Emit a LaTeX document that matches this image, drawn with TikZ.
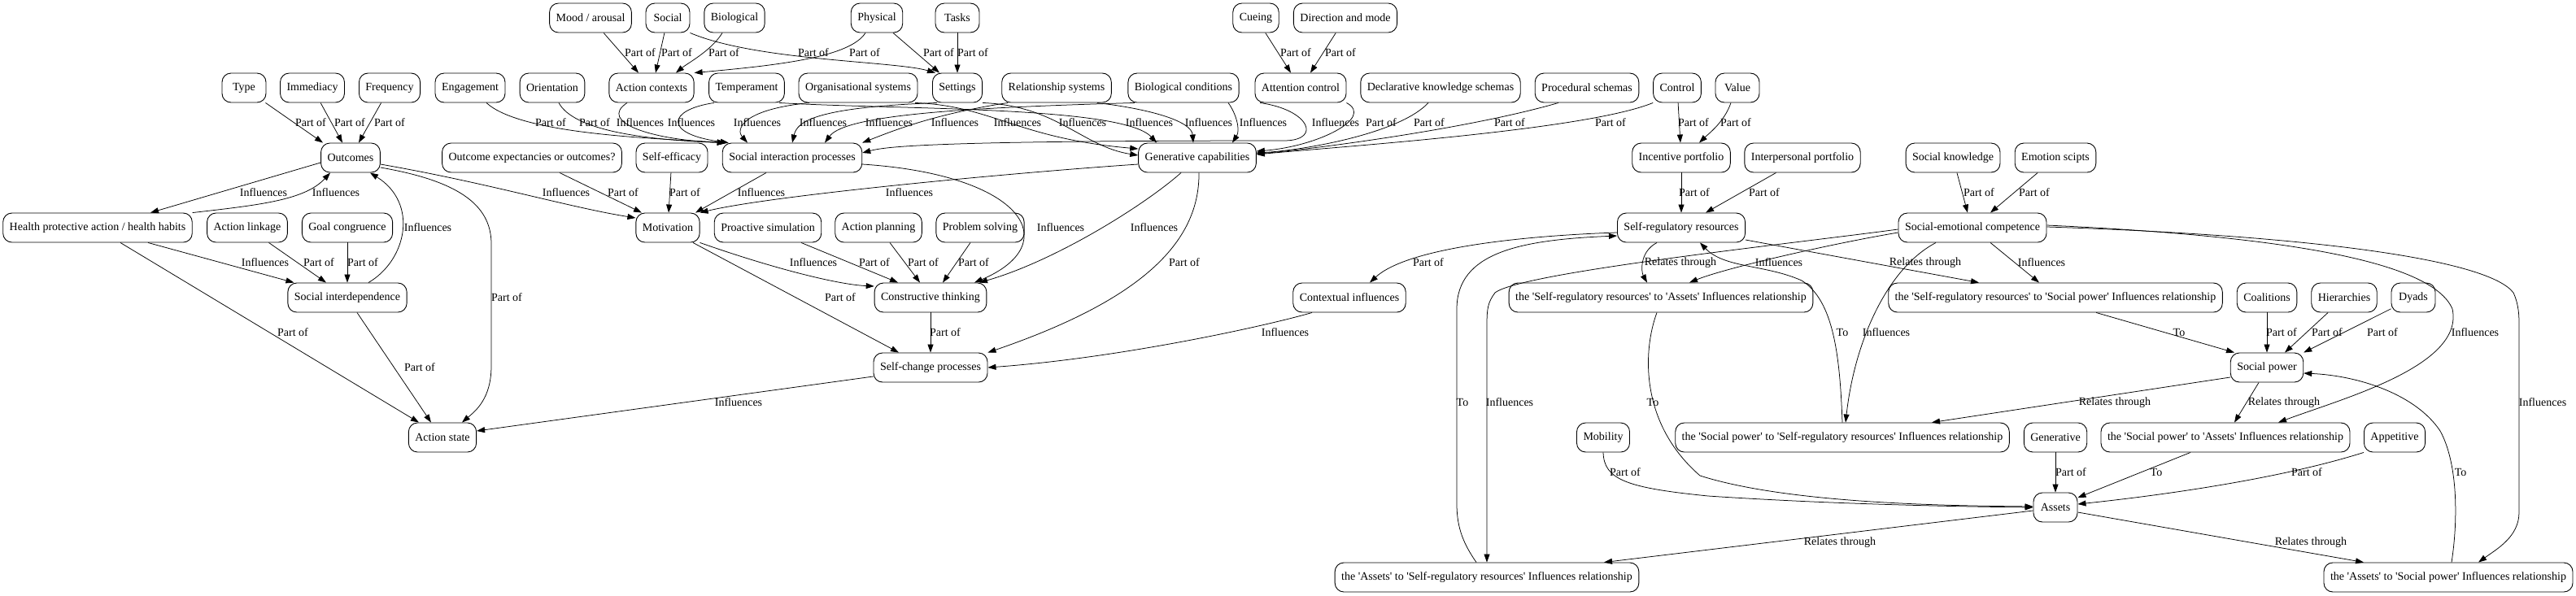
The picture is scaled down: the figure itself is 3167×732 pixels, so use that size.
\documentclass[tikz,border=0pt]{standalone}
\usepackage{fontspec}
\setmainfont{Liberation Serif}[Ligatures=TeXOff]
\usetikzlibrary{arrows.meta}
\tikzset{
  box/.style={draw, line width=0.9pt, rounded corners=11pt, minimum height=36pt,
    minimum width=54pt, inner xsep=8pt, inner ysep=0pt, font=\fontsize{14}{16}\selectfont},
  lnk/.style={line width=0.75pt, -{Triangle[length=10pt,width=7pt]}},
  elbl/.style={font=\fontsize{14}{16}\selectfont, inner sep=0pt},
}
\begin{document}
\begin{tikzpicture}[x=1pt,y=-1pt]
  \useasboundingbox (0,0) rectangle (3167,732);

  % rank 0
  \node[box] (mood)   at (726,22)  {Mood / arousal};
  \node[box] (social) at (821,22)  {Social};
  \node[box] (bio)    at (903,22)  {Biological};
  \node[box] (phys)   at (1078,22) {Physical};
  \node[box] (tasks)  at (1177,22) {Tasks};
  \node[box] (cue)    at (1544,22) {Cueing};
  \node[box] (dirm)   at (1654,22) {Direction and mode};

  % rank 1
  \node[box] (type)     at (300,108)  {Type};
  \node[box] (immed)    at (384,108)  {Immediacy};
  \node[box] (freq)     at (479,108)  {Frequency};
  \node[box] (engage)   at (578,108)  {Engagement};
  \node[box] (orient)   at (679,108)  {Orientation};
  \node[box] (actx)     at (801,108)  {Action contexts};
  \node[box] (temper)   at (918,108)  {Temperament};
  \node[box] (orgsys)   at (1055,108) {Organisational systems};
  \node[box] (settings) at (1177,108) {Settings};
  \node[box] (relsys)   at (1299,108) {Relationship systems};
  \node[box] (bioc)     at (1455,108) {Biological conditions};
  \node[box] (attc)     at (1599,108) {Attention control};
  \node[box] (declk)    at (1771,108) {Declarative knowledge schemas};
  \node[box] (procs)    at (1951,108) {Procedural schemas};
  \node[box] (control)  at (2062,108) {Control};
  \node[box] (value)    at (2136,108) {Value};

  % rank 2
  \node[box] (outc)  at (431,194)  {Outcomes};
  \node[box] (oexp)  at (654,194)  {Outcome expectancies or outcomes?};
  \node[box] (seff)  at (826,194)  {Self-efficacy};
  \node[box] (sip)   at (974,194)  {Social interaction processes};
  \node[box] (gcap)  at (1472,194) {Generative capabilities};
  \node[box] (incp)  at (2067,194) {Incentive portfolio};
  \node[box] (intp)  at (2216,194) {Interpersonal portfolio};
  \node[box] (sknow) at (2401,194) {Social knowledge};
  \node[box] (emos)  at (2527,194) {Emotion scipts};

  % rank 3
  \node[box] (health) at (120,280)  {Health protective action / health habits};
  \node[box] (alink)  at (304,280)  {Action linkage};
  \node[box] (goalc)  at (427,280)  {Goal congruence};
  \node[box] (motiv)  at (821,280)  {Motivation};
  \node[box] (prosim) at (944,280)  {Proactive simulation};
  \node[box] (aplan)  at (1080,280) {Action planning};
  \node[box] (probs)  at (1205,280) {Problem solving};
  \node[box] (srr)    at (2067,280) {Self-regulatory resources};
  \node[box] (sec)    at (2425,280) {Social-emotional competence};

  % rank 4
  \node[box] (sinter) at (427,366)  {Social interdependence};
  \node[box] (cthink) at (1144,366) {Constructive thinking};
  \node[box] (ctxi)   at (1659,366) {Contextual influences};
  \node[box] (rSA)    at (2042,366) {the 'Self-regulatory resources' to 'Assets' Influences relationship};
  \node[box] (rSP)    at (2527,366) {the 'Self-regulatory resources' to 'Social power' Influences relationship};
  \node[box] (coal)   at (2787,366) {Coalitions};
  \node[box] (hier)   at (2882,366) {Hierarchies};
  \node[box] (dyads)  at (2967,366) {Dyads};

  % rank 5
  \node[box] (scp)  at (1144,452) {Self-change processes};
  \node[box] (spow) at (2787,452) {Social power};

  % rank 6
  \node[box] (astate) at (544,538)  {Action state};
  \node[box] (mobil)  at (1971,538) {Mobility};
  \node[box] (rPS)    at (2265,538) {the 'Social power' to 'Self-regulatory resources' Influences relationship};
  \node[box] (gener)  at (2527,538) {Generative};
  \node[box] (rPA)    at (2736,538) {the 'Social power' to 'Assets' Influences relationship};
  \node[box] (appet)  at (2944,538) {Appetitive};

  % rank 7 and 8
  \node[box] (assets) at (2527,624) {Assets};
  \node[box] (rAS)    at (1828,710) {the 'Assets' to 'Self-regulatory resources' Influences relationship};
  \node[box] (rAP)    at (3010,710) {the 'Assets' to 'Social power' Influences relationship};

  % parts of action contexts, settings, attention control
  \draw[lnk] (mood) -- ([xshift=-16pt]actx.north) node[elbl] at (787,65) {Part of};
  \draw[lnk] (social) -- ([xshift=5pt]actx.north) node[elbl] at (832,65) {Part of};
  \draw[lnk] ([xshift=-15pt]bio.south) .. controls (875,62) and (845,78) .. ([xshift=30pt]actx.north) node[elbl] at (890,65) {Part of};
  \draw[lnk] ([xshift=-14pt]phys.south) .. controls (1045,70) and (960,80) .. (actx.north east) node[elbl] at (1063,65) {Part of};
  \draw[lnk] (social.south east) .. controls (930,75) and (1100,75) .. ([xshift=4pt]settings.north west) node[elbl] at (1000,65) {Part of};
  \draw[lnk] ([xshift=20pt]phys.south) -- ([xshift=-22pt]settings.north) node[elbl] at (1154,65) {Part of};
  \draw[lnk] (tasks) -- (settings) node[elbl] at (1196,65) {Part of};
  \draw[lnk] (cue) -- ([xshift=-12pt]attc.north) node[elbl] at (1593,65) {Part of};
  \draw[lnk] (dirm) -- ([xshift=12pt]attc.north) node[elbl] at (1648,65) {Part of};

  % parts of outcomes
  \draw[lnk] (type) -- ([xshift=-34pt]outc.north) node[elbl] at (382,151) {Part of};
  \draw[lnk] (immed) -- ([xshift=-10pt]outc.north) node[elbl] at (430,151) {Part of};
  \draw[lnk] (freq) -- ([xshift=10pt]outc.north) node[elbl] at (479,151) {Part of};

  % into social interaction processes
  \draw[lnk] ([xshift=20pt]engage.south) .. controls (640,165) and (800,170) .. ([xshift=4pt]sip.north west) node[elbl] at (677,151) {Part of};
  \draw[lnk] ([xshift=8pt]orient.south) .. controls (705,160) and (790,172) .. ([xshift=4pt]sip.north west) node[elbl] at (731,151) {Part of};
  \draw[lnk] ([xshift=-30pt]actx.south) .. controls (735,150) and (800,172) .. ([xshift=4pt]sip.north west) node[elbl] at (787,151) {Influences};
  \draw[lnk] ([xshift=-40pt]temper.south) .. controls (820,135) and (815,165) .. ([xshift=8pt]sip.north west) node[elbl] at (850,151) {Influences};
  \draw[lnk] ([xshift=-60pt]orgsys.south) .. controls (910,135) and (905,160) .. ([xshift=-55pt]sip.north) node[elbl] at (931,151) {Influences};
  \draw[lnk] ([xshift=-25pt]settings.south) .. controls (1000,132) and (980,150) .. (sip.north) node[elbl] at (1012,151) {Influences};
  \draw[lnk] ([xshift=-60pt]bioc.south) .. controls (1200,132) and (1040,140) .. ([xshift=40pt]sip.north) node[elbl] at (1093,151) {Influences};
  \draw[lnk] ([xshift=-60pt]relsys.south) .. controls (1150,140) and (1100,160) .. (sip.north east) node[elbl] at (1174,151) {Influences};
  \draw[lnk] ([xshift=-50pt]attc.south) .. controls (1610,135) and (1625,172) .. (1580,173) .. controls (1150,173) and (1090,180) .. ([yshift=6pt]sip.east) node[elbl] at (1642,151) {Influences};

  % into generative capabilities
  \draw[lnk] ([xshift=70pt]orgsys.south) .. controls (1220,130) and (1250,170) .. ([yshift=11pt]gcap.west) node[elbl] at (1251,151) {Influences};
  \draw[lnk] (settings.south east) .. controls (1300,130) and (1330,180) .. ([yshift=3pt]gcap.west) node[elbl] at (1331,151) {Influences};
  \draw[lnk] ([xshift=40pt]temper.south) .. controls (1100,135) and (1380,130) .. ([xshift=-50pt]gcap.north) node[elbl] at (1413,151) {Influences};
  \draw[lnk] ([xshift=50pt]relsys.south) .. controls (1420,135) and (1465,150) .. ([xshift=-5pt]gcap.north) node[elbl] at (1486,151) {Influences};
  \draw[lnk] ([xshift=55pt]bioc.south) .. controls (1520,140) and (1525,160) .. ([xshift=43pt]gcap.north) node[elbl] at (1553,151) {Influences};
  \draw[lnk] (attc.south east) .. controls (1690,145) and (1620,180) .. ([yshift=8pt]gcap.east) node[elbl] at (1698,151) {Part of};
  \draw[lnk] ([xshift=-15pt]declk.south) .. controls (1720,165) and (1600,185) .. ([yshift=6pt]gcap.east) node[elbl] at (1757,151) {Part of};
  \draw[lnk] ([xshift=-35pt]procs.south) .. controls (1800,160) and (1600,185) .. ([yshift=5pt]gcap.east) node[elbl] at (1856,151) {Part of};
  \draw[lnk] (control.south west) .. controls (1950,160) and (1650,180) .. ([yshift=4pt]gcap.east) node[elbl] at (1980,151) {Part of};

  % outcomes, health habits, social interdependence
  \draw[lnk] ([yshift=-6pt]outc.west) -- ([xshift=65pt]health.north) node[elbl] at (324,237) {Influences};
  \draw[lnk] (health.north east) .. controls (320,252) and (375,246) .. ([xshift=-25pt]outc.south) node[elbl] at (413,237) {Influences};
  \draw[lnk] ([xshift=62pt]health.south) -- ([xshift=8pt]sinter.north west) node[elbl] at (326,323) {Influences};
  \draw[lnk] (alink) -- ([xshift=-26pt]sinter.north) node[elbl] at (392,323) {Part of};
  \draw[lnk] (goalc) -- (sinter) node[elbl] at (446,323) {Part of};
  \draw[lnk] ([xshift=26pt]sinter.north) .. controls (500,320) and (515,250) .. ([xshift=24pt]outc.south) node[elbl] at (526,280) {Influences};
  \draw[lnk] ([xshift=28pt]health.south) -- ([xshift=-29pt]astate.north) node[elbl] at (360,409) {Part of};
  \draw[lnk] ([xshift=12pt]sinter.south) -- ([xshift=-14pt]astate.north) node[elbl] at (516,452) {Part of};
  \draw[lnk] ([yshift=-12pt]outc.east) .. controls (560,222) and (604,250) .. (604,300) -- (604,450) .. controls (604,490) and (585,505) .. ([xshift=24pt]astate.north) node[elbl] at (623,366) {Part of};

  % motivation
  \draw[lnk] ([yshift=-8pt]outc.east) .. controls (600,225) and (700,255) .. ([yshift=12pt]motiv.west) node[elbl] at (696,237) {Influences};
  \draw[lnk] ([xshift=34pt]oexp.south) -- ([xshift=-32pt]motiv.north) node[elbl] at (766,237) {Part of};
  \draw[lnk] (seff) -- (motiv) node[elbl] at (842,237) {Part of};
  \draw[lnk] ([xshift=-32pt]sip.south) -- ([xshift=34pt]motiv.north) node[elbl] at (936,237) {Influences};
  \draw[lnk] ([yshift=-8pt]gcap.west) .. controls (1250,212) and (950,240) .. (motiv.north east) node[elbl] at (1118,237) {Influences};

  % constructive thinking and self-change
  \draw[lnk] ([xshift=31pt]motiv.south) -- ([xshift=-39pt]scp.north) node[elbl] at (1033,366) {Part of};
  \draw[lnk] (motiv.south east) .. controls (950,330) and (1030,350) .. ([yshift=14pt]cthink.west) node[elbl] at (1000,323) {Influences};
  \draw[lnk] ([xshift=41pt]prosim.south) -- ([xshift=-40pt]cthink.north) node[elbl] at (1075,323) {Part of};
  \draw[lnk] ([xshift=14pt]aplan.south) -- ([xshift=-13pt]cthink.north) node[elbl] at (1135,323) {Part of};
  \draw[lnk] ([xshift=-12pt]probs.south) -- ([xshift=15pt]cthink.north) node[elbl] at (1197,323) {Part of};
  \draw[lnk] ([yshift=-8pt]sip.east) .. controls (1260,215) and (1310,300) .. ([xshift=54pt]cthink.north) node[elbl] at (1304,280) {Influences};
  \draw[lnk] ([xshift=-20pt]gcap.south) .. controls (1410,250) and (1300,320) .. ([xshift=60pt]cthink.north) node[elbl] at (1419,280) {Influences};
  \draw[lnk] ([xshift=2pt]gcap.south) .. controls (1475,300) and (1400,370) .. (scp.north east) node[elbl] at (1456,323) {Part of};
  \draw[lnk] (cthink) -- (scp) node[elbl] at (1162,409) {Part of};
  \draw[lnk] ([yshift=-11pt]scp.west) -- ([yshift=8pt]astate.east) node[elbl] at (908,495) {Influences};

  % self-regulatory resources and social-emotional competence
  \draw[lnk] (control) -- (incp) node[elbl] at (2082,151) {Part of};
  \draw[lnk] ([xshift=-8pt]value.south) .. controls (2120,150) and (2100,165) .. ([xshift=22pt]incp.north) node[elbl] at (2134,151) {Part of};
  \draw[lnk] (incp) -- (srr) node[elbl] at (2083,237) {Part of};
  \draw[lnk] (intp) -- ([xshift=30pt]srr.north) node[elbl] at (2169,237) {Part of};
  \draw[lnk] (sknow) -- ([xshift=-6pt]sec.north) node[elbl] at (2433,237) {Part of};
  \draw[lnk] (emos) -- ([xshift=22pt]sec.north) node[elbl] at (2501,237) {Part of};
  \draw[lnk] ([yshift=-6pt]srr.west) .. controls (1870,290) and (1730,305) .. ([xshift=25pt]ctxi.north) node[elbl] at (1756,323) {Part of};
  \draw[lnk] ([xshift=-46pt]ctxi.south) .. controls (1560,400) and (1380,440) .. (scp.east) node[elbl] at (1580,409) {Influences};

  % reified relationships
  \draw[lnk] ([xshift=-30pt]srr.south) .. controls (2015,310) and (2018,335) .. ([xshift=-17pt]rSA.north) node[elbl] at (2066,323) {Relates through};
  \draw[lnk] ([yshift=-6pt]sec.west) .. controls (2250,300) and (2120,330) .. ([xshift=35pt]rSA.north) node[elbl] at (2187,323) {Influences};
  \draw[lnk] ([yshift=-2pt]sec.west) .. controls (2200,300) and (1870,335) .. (1838,360) .. controls (1829,372) and (1828,380) .. (1828,400) -- (rAS.north) node[elbl] at (1856,495) {Influences};
  \draw[lnk] ([yshift=-15pt]srr.east) -- ([xshift=-94pt]rSP.north) node[elbl] at (2367,323) {Relates through};
  \draw[lnk] ([xshift=22pt]sec.south) -- ([xshift=-20pt]rSP.north) node[elbl] at (2510,323) {Influences};
  \draw[lnk] ([xshift=-5pt]rSA.south) .. controls (2020,430) and (2015,520) .. (2090,585) .. controls (2200,620) and (2400,622) .. ([yshift=1pt]assets.west) node[elbl] at (2032,495) {To};
  \draw[lnk] (mobil.south) .. controls (1972,590) and (2000,600) .. (2100,610) .. controls (2250,620) and (2400,623) .. (assets.west) node[elbl] at (1998,581) {Part of};
  \draw[lnk] (gener) -- (assets) node[elbl] at (2546,581) {Part of};
  \draw[lnk] ([xshift=-38pt]appet.south) .. controls (2800,590) and (2650,610) .. ([yshift=4pt]assets.east) node[elbl] at (2836,581) {Part of};
  \draw[lnk] ([xshift=-43pt]rPA.south) -- ([yshift=12pt]assets.east) node[elbl] at (2651,581) {To};
  \draw[lnk] ([yshift=-4pt]assets.west) -- ([xshift=144pt]rAS.north) node[elbl] at (2262,667) {Relates through};
  \draw[lnk] ([yshift=-6pt]assets.east) -- ([xshift=-104pt]rAP.north) node[elbl] at (2841,667) {Relates through};
  \draw[lnk] ([xshift=-13pt]rAS.north) .. controls (1800,670) and (1791,650) .. (1791,620) -- (1791,380) .. controls (1791,310) and (1870,295) .. ([yshift=-10pt]srr.west) node[elbl] at (1798,495) {To};
  \draw[lnk] (rPS.north) .. controls (2262,440) and (2255,370) .. (2215,345) .. controls (2170,325) and (2120,330) .. ([xshift=23pt]srr.south) node[elbl] at (2265,409) {To};
  \draw[lnk] ([xshift=-45pt]sec.south) .. controls (2320,330) and (2280,420) .. ([xshift=4pt]rPS.north) node[elbl] at (2319,409) {Influences};
  \draw[lnk] ([yshift=-12pt]spow.west) -- ([xshift=110pt]rPS.north) node[elbl] at (2600,495) {Relates through};
  \draw[lnk] ([xshift=-10pt]spow.south) -- ([xshift=11pt]rPA.north) node[elbl] at (2808,495) {Relates through};
  \draw[lnk] ([yshift=3pt]sec.east) .. controls (2800,290) and (2990,320) .. (3015,380) .. controls (3030,450) and (2880,490) .. ([xshift=65pt]rPA.north) node[elbl] at (3043,409) {Influences};
  \draw[lnk] ([yshift=1pt]sec.east) .. controls (2850,290) and (3060,320) .. (3090,360) .. controls (3097,375) and (3097,390) .. (3097,400) -- (3097,630) .. controls (3097,660) and (3070,675) .. ([xshift=37pt]rAP.north) node[elbl] at (3126,495) {Influences};
  \draw[lnk] ([xshift=4pt]rAP.north) .. controls (3022,640) and (3022,570) .. (3000,530) .. controls (2970,485) and (2900,462) .. ([yshift=-7pt]spow.east) node[elbl] at (3025,581) {To};
  \draw[lnk] ([xshift=50pt]rSP.south) -- ([xshift=-40pt]spow.north) node[elbl] at (2679,409) {To};

  % parts of social power
  \draw[lnk] (coal) -- (spow) node[elbl] at (2805,409) {Part of};
  \draw[lnk] (hier) -- ([xshift=22pt]spow.north) node[elbl] at (2861,409) {Part of};
  \draw[lnk] (dyads) -- (spow.north east) node[elbl] at (2929,409) {Part of};
\end{tikzpicture}
\end{document}
